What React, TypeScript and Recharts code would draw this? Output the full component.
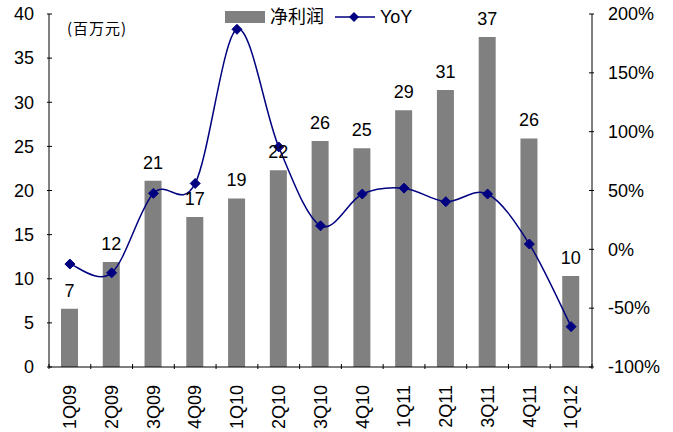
import React from 'react';
import { ComposedChart, Bar, Line, XAxis, YAxis, LabelList } from 'recharts';

const categories = ['1Q09', '2Q09', '3Q09', '4Q09', '1Q10', '2Q10', '3Q10', '4Q10', '1Q11', '2Q11', '3Q11', '4Q11', '1Q12'];
const netProfit = [6.6, 11.9, 21.1, 17.0, 19.1, 22.3, 25.6, 24.8, 29.1, 31.4, 37.4, 25.9, 10.3];
const yoy = [-12.5, -20, 47.6, 56, 187, 87, 20, 47, 52, 40.5, 47, 4.5, -65.7];
const leftTicks = [0, 5, 10, 15, 20, 25, 30, 35, 40];
const rightTicks = [-100, -50, 0, 50, 100, 150, 200];

const data = categories.map((c, i) => ({ name: c, profit: netProfit[i], yoy: yoy[i] }));

const W = 673;
const H = 432;
const M = { top: 14, right: 0, bottom: 0, left: 0 };
const LEFT_W = 49;
const RIGHT_W = 81;
const X_H = 65;
const PLOT_W = W - LEFT_W - RIGHT_W;
const BAND = PLOT_W / categories.length;
const FONT = '"Liberation Sans", Arial, sans-serif';
const CJK = '"Noto Sans CJK SC", "Liberation Sans", sans-serif';
const NAVY = '#000080';
const GRAY = '#808080';
const FS = 18;

// Catmull-Rom style smoothing (similar to Excel smoothed line)
const smoothCurve: any = (context: any) => {
  let pts: number[][] = [];
  return {
    areaStart() {},
    areaEnd() {},
    lineStart() {
      pts = [];
    },
    lineEnd() {
      if (!pts.length) return;
      context.moveTo(pts[0][0], pts[0][1]);
      for (let i = 0; i < pts.length - 1; i++) {
        const p0 = pts[i - 1] || pts[i];
        const p1 = pts[i];
        const p2 = pts[i + 1];
        const p3 = pts[i + 2] || pts[i + 1];
        const c1x = p1[0] + (p2[0] - p0[0]) / 6;
        const c1y = p1[1] + (p2[1] - p0[1]) / 6;
        const c2x = p2[0] - (p3[0] - p1[0]) / 6;
        const c2y = p2[1] - (p3[1] - p1[1]) / 6;
        context.bezierCurveTo(c1x, c1y, c2x, c2y, p2[0], p2[1]);
      }
    },
    point(x: number, y: number) {
      pts.push([+x, +y]);
    },
  };
};

const Diamond = (props: any) => {
  const { cx, cy } = props;
  if (cx == null || cy == null) return null;
  const r = 5;
  return (
    <polygon
      points={`${cx},${cy - r} ${cx + r},${cy} ${cx},${cy + r} ${cx - r},${cy}`}
      fill={NAVY}
      stroke={NAVY}
    />
  );
};

const LeftTick = (props: any) => {
  const { x, y, payload } = props;
  return (
    <g>
      <line x1={x} x2={x + 5} y1={y} y2={y} stroke="#000" strokeWidth={1} />
      <text x={x - 13} y={y} dy="0.35em" textAnchor="end" fontSize={FS} fontFamily={FONT} fill="#000">
        {payload.value}
      </text>
    </g>
  );
};

const RightTick = (props: any) => {
  const { x, y, payload } = props;
  return (
    <g>
      <line x1={x - 5} x2={x} y1={y} y2={y} stroke="#000" strokeWidth={1} />
      <text x={x + 14} y={y} dy="0.35em" textAnchor="start" fontSize={FS} fontFamily={FONT} fill="#000">
        {`${payload.value}%`}
      </text>
    </g>
  );
};

const BottomTick = (props: any) => {
  const { x, y, payload, index } = props;
  const ty = y + 16;
  return (
    <g>
      <line x1={x - BAND / 2} x2={x - BAND / 2} y1={y} y2={y - 5} stroke="#000" strokeWidth={1} />
      {index === categories.length - 1 ? (
        <line x1={x + BAND / 2} x2={x + BAND / 2} y1={y} y2={y - 5} stroke="#000" strokeWidth={1} />
      ) : null}
      <text
        x={x}
        y={ty}
        dy="0.35em"
        textAnchor="end"
        transform={`rotate(-90, ${x}, ${ty})`}
        fontSize={FS}
        fontFamily={FONT}
        fill="#000"
      >
        {payload.value}
      </text>
    </g>
  );
};

const LegendBox = () => (
  <svg width={200} height={20} style={{ position: 'absolute', left: 225, top: 9, overflow: 'visible' }}>
    <rect x={0} y={2} width={40} height={12} fill={GRAY} />
    <text x={45} y={8} dy="0.35em" fontSize={FS} fontFamily={CJK} fill="#000">
      净利润
    </text>
    <line x1={110} x2={150} y1={8} y2={8} stroke={NAVY} strokeWidth={1.5} />
    <polygon points="129,3 134,8 129,13 124,8" fill={NAVY} />
    <text x={155} y={8} dy="0.35em" fontSize={FS} fontFamily={FONT} fill="#000">
      YoY
    </text>
  </svg>
);

export default function App() {
  return (
    <div style={{ position: 'absolute', left: 0, top: 0, width: W, height: H, background: '#fff' }}>
      <ComposedChart width={W} height={H} data={data} margin={M} barCategoryGap={0}>
        <XAxis
          dataKey="name"
          height={X_H}
          tickLine={false}
          tickSize={0}
          tick={<BottomTick />}
          interval={0}
          axisLine={{ stroke: '#000' }}
        />
        <YAxis
          yAxisId="left"
          orientation="left"
          width={LEFT_W}
          domain={[0, 40]}
          ticks={leftTicks}
          tickLine={false}
          tickSize={0}
          tick={<LeftTick />}
          axisLine={{ stroke: '#000' }}
          interval={0}
        />
        <YAxis
          yAxisId="right"
          orientation="right"
          width={RIGHT_W}
          domain={[-100, 200]}
          ticks={rightTicks}
          tickLine={false}
          tickSize={0}
          tick={<RightTick />}
          axisLine={{ stroke: '#000' }}
          interval={0}
        />
        <Bar yAxisId="left" dataKey="profit" fill={GRAY} barSize={17} isAnimationActive={false}>
          <LabelList
            dataKey="profit"
            position="top"
            offset={12}
            formatter={(v: any) => Math.round(Number(v))}
            style={{ fontSize: FS, fontFamily: FONT, fill: '#000' }}
          />
        </Bar>
        <Line
          yAxisId="right"
          dataKey="yoy"
          type={smoothCurve}
          stroke={NAVY}
          strokeWidth={1.5}
          dot={<Diamond />}
          activeDot={false}
          isAnimationActive={false}
        />
      </ComposedChart>
      <LegendBox />
      <div
        style={{
          position: 'absolute',
          left: 67,
          top: 18,
          fontFamily: CJK,
          fontSize: 15,
          lineHeight: '20px',
          letterSpacing: 1,
          color: '#000',
          whiteSpace: 'nowrap',
        }}
      >
        (百万元)
      </div>
    </div>
  );
}
